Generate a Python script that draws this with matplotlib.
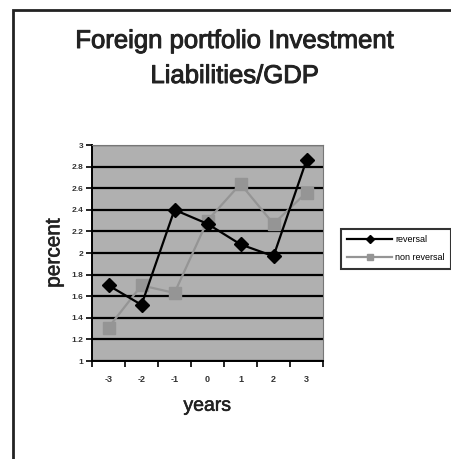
import numpy as np
import matplotlib.pyplot as plt
import matplotlib.patheffects as pe
from matplotlib.patches import Rectangle

years = [-3, -2, -1, 0, 1, 2, 3]
reversal = [1.70, 1.52, 2.40, 2.27, 2.08, 1.97, 2.86]
non_reversal = [1.31, 1.70, 1.63, 2.30, 2.64, 2.27, 2.56]
yticks = [1, 1.2, 1.4, 1.6, 1.8, 2, 2.2, 2.4, 2.6, 2.8, 3]
ytick_labels = ['1', '1.2', '1.4', '1.6', '1.8', '2', '2.2', '2.4', '2.6', '2.8', '3']

plt.rcParams['font.family'] = ['Liberation Sans', 'DejaVu Sans']

W, H = 451, 459
fig = plt.figure(figsize=(W / 100, H / 100), dpi=100)

# outer chart frame, runs off the right and bottom edges
fig.patches.append(Rectangle((13 / W, -0.1), 1.2, 1 - 10 / H + 0.1,
                             transform=fig.transFigure, fill=False,
                             edgecolor='#222222', linewidth=2))

ax = fig.add_axes([92 / W, 1 - 361 / H, (323 - 92) / W, (361 - 145) / H])
ax.set_facecolor('#b0b0b0')

ax.plot(years, reversal, color='black', marker='D', markersize=7,
        linewidth=1.6, label='reversal', zorder=4)
ax.plot(years, non_reversal, color='#959595', marker='s', markersize=8,
        linewidth=1.6, label='non reversal', zorder=3)

ax.set_ylim(1, 3)
ax.set_xlim(-3.5, 3.5)
ax.set_yticks(yticks)
ax.set_yticklabels(ytick_labels, fontsize=6, fontweight='bold', color='#333333')
ax.yaxis.grid(True, color='black', linewidth=1.6)
ax.set_axisbelow(True)

# category ticks sit between the years, labels centred on the years
ax.set_xticks(np.arange(-3.5, 4, 1))
ax.set_xticklabels([])
ax.set_xticks(years, minor=True)
ax.set_xticklabels([str(y) for y in years], minor=True,
                   fontsize=6.5, fontweight='bold', color='#333333')
ax.tick_params(axis='x', which='minor', length=0, pad=10)
ax.tick_params(axis='both', which='major', length=4, width=1.2, direction='out')
ax.tick_params(axis='y', pad=2)

for side in ['top', 'right']:
    ax.spines[side].set_color('#777777')
for side in ['left', 'bottom']:
    ax.spines[side].set_color('black')
    ax.spines[side].set_linewidth(1.4)

# regular weight thickened with a stroke keeps text narrow but heavy
heavy = [pe.withStroke(linewidth=0.7, foreground='#222222')]
semi = [pe.withStroke(linewidth=0.4, foreground='#222222')]

ax.set_ylabel('percent', fontsize=15, color='#222222', labelpad=6,
              path_effects=semi)
ax.set_xlabel('years', fontsize=14, color='#222222', labelpad=10,
              path_effects=semi)

fig.text(235 / W, 1 - 41 / H, 'Foreign portfolio Investment', ha='center',
         va='center', fontsize=18.5, color='#222222', path_effects=heavy)
fig.text(235 / W, 1 - 76 / H, 'Liabilities/GDP', ha='center',
         va='center', fontsize=18.5, color='#222222', path_effects=heavy)

leg = fig.legend(loc='upper left', bbox_to_anchor=(341 / W, 1 - 229 / H),
                 fontsize=6.5, frameon=True, fancybox=False, borderaxespad=0,
                 handlelength=5, borderpad=0.7, labelspacing=1.0,
                 handletextpad=0.3, markerscale=0.6)
leg.get_frame().set_edgecolor('black')
leg.get_frame().set_linewidth(1.5)

fig.savefig('out.png', dpi=100)
